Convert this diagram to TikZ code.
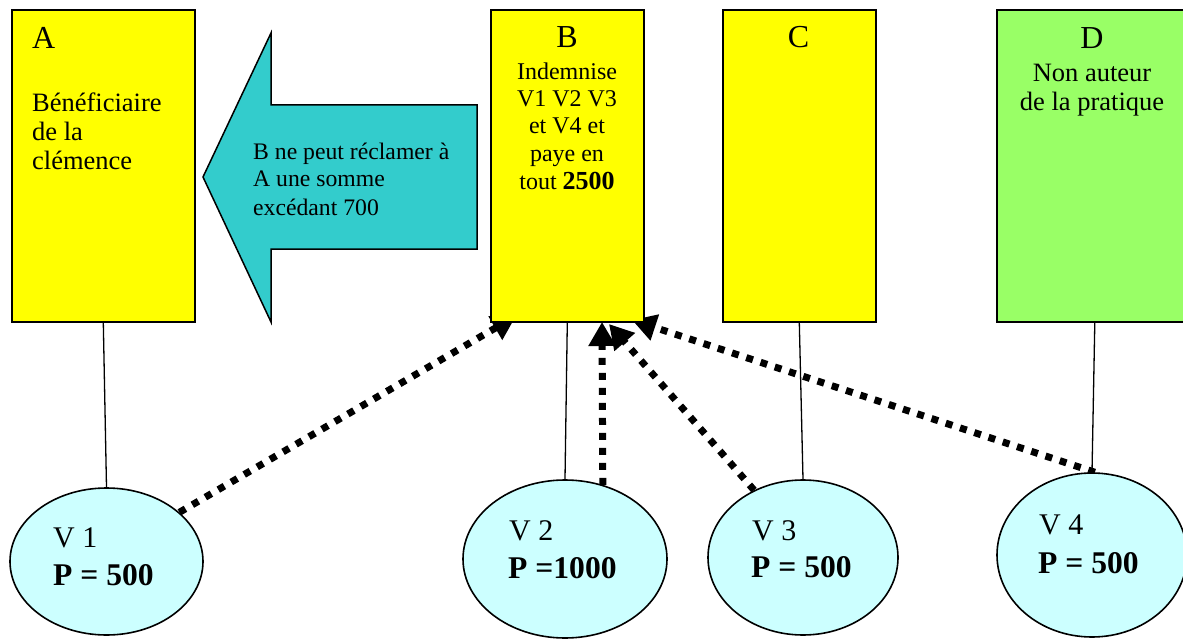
\documentclass[tikz,border=0pt]{standalone}
\usepackage{fontspec}
\setmainfont{Liberation Serif}
\usetikzlibrary{arrows.meta,shapes.geometric}
\definecolor{boxyellow}{HTML}{FFFF00}
\definecolor{boxgreen}{HTML}{99FF66}
\definecolor{arrowcyan}{HTML}{33CCCC}
\definecolor{ellcyan}{HTML}{CCFFFF}
\pgfdeclarelayer{bg}
\pgfdeclarelayer{arrowlayer}
\pgfsetlayers{bg,arrowlayer,main}
\begin{document}
\begin{tikzpicture}[x=1pt,y=-1pt,
  ybox/.style={draw=black, line width=1.6pt, fill=boxyellow, anchor=north west, inner sep=0pt, minimum height=312pt},
  gbox/.style={ybox, fill=boxgreen},
  vic/.style={draw=black, ellipse, line width=1.6pt, fill=ellcyan, inner sep=0pt},
  ttl/.style={font=\fontsize{32}{36}\selectfont, anchor=base, inner sep=0pt},
  bodyc/.style={font=\fontsize{24}{28}\selectfont, anchor=base, inner sep=0pt},
  bodyw/.style={font=\fontsize{26.5}{30}\selectfont, anchor=base, inner sep=0pt},
  bodyl/.style={bodyw, anchor=base west},
  ttll/.style={ttl, anchor=base west},
  arrtxt/.style={font=\fontsize{23.7}{27}\selectfont, anchor=base west, inner sep=0pt},
  vname/.style={font=\fontsize{30}{34}\selectfont, anchor=base west, inner sep=0pt},
  vsum/.style={font=\fontsize{31.6}{36}\selectfont\bfseries, anchor=base west, inner sep=0pt},
  tie/.style={line width=1.3pt},
  claim/.style={line width=7pt, dash pattern=on 7pt off 8pt, -{Triangle[length=24pt,width=26pt]}}
]
\clip (0,0) rectangle (1183,639);
\begin{pgfonlayer}{bg}
\fill[white] (0,0) rectangle (1183,639);
\end{pgfonlayer}

% boxes
\node[ybox, minimum width=183pt] (A) at (11,9) {};
\node[ybox, minimum width=153pt] (B) at (490,9) {};
\node[ybox, minimum width=153pt] (C) at (722,9) {};
\node[gbox, minimum width=196pt] (D) at (996,9) {};

% box texts
\node[ttll] (At) at (32,49) {A};
\node[bodyl] (A1) at (32,112) {Bénéficiaire};
\node[bodyl] (A2) at (32,141) {de la};
\node[bodyl] (A3) at (32,170) {clémence};

\node[ttl] (Bt) at (567,48) {B};
\node[bodyc] (B1) at (567,80) {Indemnise};
\node[bodyc] (B2) at (567,107) {V1 V2 V3};
\node[bodyc] (B3) at (567,134) {et V4 et};
\node[bodyc] (B4) at (567,162) {paye en};
\node[bodyc] (B5) at (567,190) {tout {\fontsize{26}{28}\selectfont\bfseries 2500}};

\node[ttl] (Ct) at (798.5,48) {C};

\node[ttl] (Dt) at (1092,49) {D};
\node[bodyw] (D1) at (1092,82) {Non auteur};
\node[bodyw] (D2) at (1092,111) {de la pratique};

% big arrow
\draw[line width=1.5pt, fill=arrowcyan] (203,177) -- (271,33) -- (271,105) -- (477,105) -- (477,249) -- (271,249) -- (271,322) -- cycle;
\node[arrtxt] (R1) at (253,160) {B ne peut réclamer à};
\node[arrtxt] (R2) at (253,187) {A une somme};
\node[arrtxt] (R3) at (253,215) {excédant 700};

% victims
\node[vic, minimum width=193pt, minimum height=147pt] (V1) at (106.5,561.5) {};
\node[vic, minimum width=204pt, minimum height=158pt] (V2) at (565,559) {};
\node[vic, minimum width=190pt, minimum height=155pt] (V3) at (803,557.5) {};
\node[vic, minimum width=190pt, minimum height=164pt] (V4) at (1092,555) {};

\node[vname] (V1n) at (53,547) {V 1};
\node[vsum] (V1s) at (53,585) {P = 500};
\node[vname] (V2n) at (509,540) {V 2};
\node[vsum] (V2s) at (508,578) {P =1000};
\node[vname] (V3n) at (752,540) {V 3};
\node[vsum] (V3s) at (751,577) {P = 500};
\node[vname] (V4n) at (1039,534) {V 4};
\node[vsum] (V4s) at (1038,573) {P = 500};

% ties
\draw[tie] (A.south) -- (V1.north);
\draw[tie] (B.south) -- (V2.north);
\draw[tie] (C.south) -- (V3.north);
\draw[tie] (D.south) -- (V4.north);

% claims towards B
\coordinate (k1) at (516,316);
\coordinate (k2) at (602,322);
\coordinate (k3) at (609,324);
\coordinate (k4) at (632,320);
\begin{pgfonlayer}{arrowlayer}
\draw[claim] (V1.34) -- (k1);
\draw[claim] (V2.63) -- (k2);
\draw[claim] (V3.126) -- (k3);
\draw[claim] (V4.88) -- (k4);
\end{pgfonlayer}
\end{tikzpicture}
\end{document}
